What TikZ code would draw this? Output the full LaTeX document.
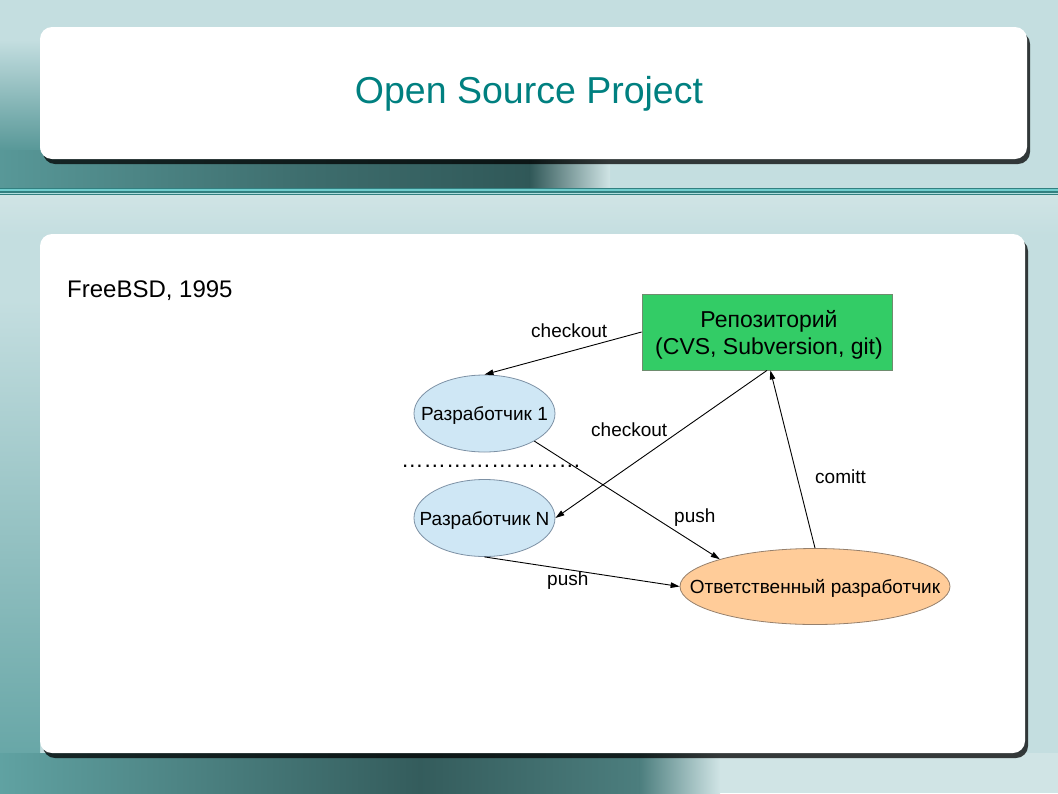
\documentclass[tikz,border=0pt]{standalone}
\usepackage{fontspec}
\setmainfont{Liberation Sans}
\usetikzlibrary{arrows.meta,shapes.geometric,shadows}

\definecolor{bglight}{RGB}{196,222,224}
\definecolor{bglight2}{RGB}{208,228,229}
\definecolor{teal1}{RGB}{88,152,152}
\definecolor{teal2}{RGB}{62,110,110}
\definecolor{teal3}{RGB}{48,88,88}
\definecolor{teal4}{RGB}{96,162,162}
\definecolor{teal5}{RGB}{52,92,92}
\definecolor{teal6}{RGB}{76,126,126}
\definecolor{sepdark}{RGB}{50,128,128}
\definecolor{sepcyan}{RGB}{112,205,205}
\definecolor{sepcyan2}{RGB}{175,222,222}
\definecolor{titleteal}{RGB}{0,128,128}
\definecolor{repogreen}{RGB}{51,204,102}
\definecolor{repoborder}{RGB}{110,140,110}
\definecolor{devblue}{RGB}{207,231,245}
\definecolor{devborder}{RGB}{125,145,165}
\definecolor{resporange}{RGB}{255,204,153}
\definecolor{respborder}{RGB}{150,128,108}

\tikzset{
  panel/.style={fill=white, rounded corners=12pt,
    drop shadow={shadow xshift=3pt, shadow yshift=-5pt, opacity=0.75, fill=black}},
  repobox/.style={rectangle, draw=repoborder, line width=0.8pt, fill=repogreen,
    minimum width=250pt, minimum height=76pt, inner sep=0pt},
  devell/.style={ellipse, draw=devborder, line width=0.8pt, fill=devblue,
    minimum width=141pt, minimum height=77pt, inner sep=0pt,
    font=\fontsize{19}{22}\selectfont, text height=14pt, text depth=0pt},
  respell/.style={ellipse, draw=respborder, line width=0.8pt, fill=resporange,
    minimum width=270pt, minimum height=76pt, inner sep=0pt,
    font=\fontsize{19}{22}\selectfont, text height=14pt, text depth=0pt},
  lbl/.style={anchor=base west, inner sep=0pt, font=\fontsize{19}{22}\selectfont},
  arr/.style={draw=black, line width=0.9pt, -{Triangle[length=9pt,width=5.5pt]}}
}

\begin{document}
\begin{tikzpicture}[x=1pt,y=-1pt]
\useasboundingbox (0,0) rectangle (1058,793);

% background
\fill[bglight] (0,0) rectangle (1058,793);
\shade[top color=bglight, bottom color=teal1] (0,40) rectangle (40,150);
\fill[teal1] (0,150) rectangle (40,188);
\shade[left color=teal1, right color=teal2] (0,150) rectangle (300,188);
\shade[left color=teal2, right color=teal3] (299.5,150) rectangle (530,188);
\shade[left color=teal3, right color=bglight2] (529.5,150) rectangle (610,188);
\fill[sepdark] (0,187.5) rectangle (1058,195);
\draw[sepcyan, line width=1.6pt] (0,190) -- (1058,190);
\draw[sepcyan2, line width=1.2pt] (0,193.6) -- (1058,193.6);
\shade[top color=bglight2, bottom color=bglight] (0,195) rectangle (1058,235);
\shade[top color=bglight, bottom color=teal4] (0,300) rectangle (40,793);
\shade[left color=teal4, right color=teal5] (0,753) rectangle (420,793);
\shade[left color=teal5, right color=teal6] (419.5,753) rectangle (640,793);
\shade[left color=teal6, right color=bglight2] (639.5,753) rectangle (720,793);
\fill[bglight2] (719.5,753) rectangle (1058,793);

% panels
\fill[panel] (40,27) rectangle (1027,159);
\fill[panel] (40,234) rectangle (1025,753);

% texts
\node[anchor=base, inner sep=0pt, text=titleteal, font=\fontsize{37.5}{42}\selectfont]
  (title) at (529,103) {Open Source Project};
\node[anchor=base west, inner sep=0pt, font=\fontsize{24}{28}\selectfont]
  (year) at (67,297) {FreeBSD, 1995};

% nodes
\node[repobox] (repo) at (767,332) {};
\node[align=center, inner sep=0pt, font=\fontsize{23}{27}\selectfont, anchor=base]
  (repotext) at (769,354) {Репозиторий\\ (CVS, Subversion, git)};
\node[devell] (dev1) at (484.5,413.5) {\makebox[0pt]{Разработчик 1}};
\node[devell] (devN) at (484.5,518) {\makebox[0pt]{Разработчик N}};
\node[respell] (resp) at (815,586.5) {\makebox[0pt]{Ответственный разработчик}};
\node[anchor=base west, inner sep=0pt, font=\fontsize{22.5}{26}\selectfont]
  (dots) at (401,467.5) {……………………};

% connectors
\draw[arr] (repo.west) -- (dev1.north);
\draw[arr] (repo.south) -- (devN.east);
\draw[arr] (dev1.-29) -- (resp.164);
\draw[arr] (devN.south) -- (resp.west);
\draw[arr] (resp.north) -- (repo.-85);

% labels
\node[lbl] (l1) at (531,337) {checkout};
\node[lbl] (l2) at (591,436) {checkout};
\node[lbl] (l3) at (674,522) {push};
\node[lbl] (l4) at (547,585) {push};
\node[lbl] (l5) at (815,483) {comitt};
\end{tikzpicture}
\end{document}
